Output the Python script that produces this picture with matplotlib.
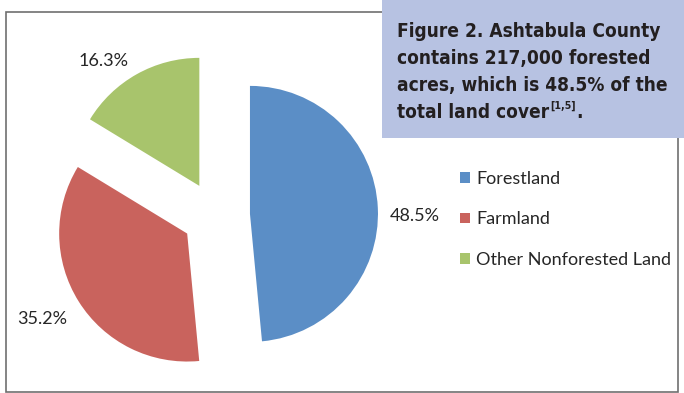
import matplotlib.pyplot as plt
from matplotlib import font_manager
from matplotlib.font_manager import FontProperties
from matplotlib.patches import Rectangle

categories = ["Forestland", "Farmland", "Other Nonforested Land"]
shares = [48.5, 35.2, 16.3]
colors = ["#5B8EC6", "#C9635D", "#A8C46C"]
title_lines = ["Figure 2. Ashtabula County", "contains 217,000 forested",
               "acres, which is 48.5% of the", "total land cover"]
title_ref = "[1,5]"

names = {f.name for f in font_manager.fontManager.ttflist}
body_font = "Lato" if "Lato" in names else "DejaVu Sans"
plt.rcParams['font.family'] = [body_font, 'DejaVu Sans']

# look for a condensed bold face for the title
cond = None
for f in font_manager.fontManager.ttflist:
    fn = f.fname.lower()
    if ("condensed" in fn or "narrow" in fn) and "bold" in fn and "oblique" not in fn \
            and "italic" not in fn and "mono" not in fn:
        cond = f.fname
        break
if cond:
    title_fp = FontProperties(fname=cond)
else:
    title_fp = FontProperties(family="Roboto", weight="bold")

W, H = 684, 393
fig = plt.figure(figsize=(W / 100, H / 100), dpi=100)
ax = fig.add_axes([0, 0, 1, 1])

wedges, texts, pcts = ax.pie(shares, colors=colors, startangle=90, counterclock=False,
                             explode=[34] * 3, radius=128, center=(216, H - 215.5),
                             autopct="%.1f%%", pctdistance=1.29, frame=True,
                             textprops={"fontsize": 13, "color": "#262626"})
# nudge the labels to where the original places them
nudges = [(0, -10), (-5, 2), (-15, -19)]
for p, (dx, dy) in zip(pcts, nudges):
    x, y = p.get_position()
    p.set_position((x + dx, y + dy))

ax.set_xlim(0, W)
ax.set_ylim(0, H)
ax.axis("off")

# chart border
ax.add_patch(Rectangle((6, H - 392), 672, 380, fill=False, edgecolor="#6f6f6f", lw=1.2))

ax.legend(wedges, categories, loc="upper left", bbox_to_anchor=(460 / W, 1 - 171 / H),
          frameon=False, fontsize=13, handlelength=0.55, handleheight=0.55,
          handletextpad=0.35, labelspacing=1.35, borderpad=0, borderaxespad=0,
          labelcolor="#262626")

# title box
ax.add_patch(Rectangle((382, H - 138), W - 382, 138, facecolor="#B7C2E2",
                       edgecolor="none", zorder=5))

fig.canvas.draw()
r = fig.canvas.get_renderer()
# fit title size so the first line spans the same width as in the figure
probe = ax.text(0, 0, title_lines[0], fontproperties=title_fp, fontsize=17.5)
w0 = probe.get_window_extent(r).width
probe.remove()
tsize = min(17.5, 17.5 * 264 / w0)

t = None
for i, line in enumerate(title_lines):
    t = ax.text(397, H - 37 - 27 * i, line, fontproperties=title_fp, fontsize=tsize,
                color="#231F20", ha="left", va="baseline", zorder=6)
bb = t.get_window_extent(r)
t2 = ax.text(bb.x1 + 1, H - 37 - 27 * 3 + 9, title_ref, fontproperties=title_fp,
             fontsize=tsize * 0.55, color="#231F20", ha="left", va="baseline", zorder=6)
bb2 = t2.get_window_extent(r)
ax.text(bb2.x1 + 1, H - 37 - 27 * 3, ".", fontproperties=title_fp, fontsize=tsize,
        color="#231F20", ha="left", va="baseline", zorder=6)

fig.savefig("out.png", dpi=100)
